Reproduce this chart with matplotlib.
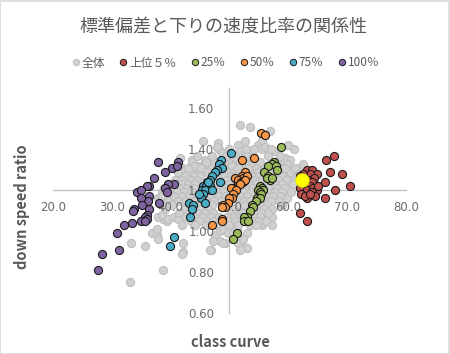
"""標準偏差と下りの速度比率の関係性 — scatter, axes crossing at (50, 1.2)."""
import matplotlib
matplotlib.use("Agg")
import matplotlib.pyplot as plt
from matplotlib.lines import Line2D
from matplotlib.patches import Rectangle

plt.rcParams["font.family"] = ["Noto Sans CJK JP", "DejaVu Sans"]

# --- data (class curve, down speed ratio) ---
gray_outer = [
    (38.7, 0.81), (33.2, 0.94), (35.6, 0.93), (42.1, 0.90), (33.1, 0.75),
    (36.8, 0.99), (37.6, 0.98), (37.9, 0.96), (37.6, 1.01), (39.3, 1.05),
    (38.7, 1.06), (37.9, 1.07), (38.5, 1.08), (39.6, 1.06), (40.5, 1.07),
    (41.3, 1.06), (38.5, 1.19), (37.9, 1.16), (39.3, 1.17), (41.0, 1.24),
    (40.4, 1.23), (41.9, 1.31), (41.6, 1.36), (43.7, 1.35), (45.8, 1.35),
    (47.1, 1.36), (48.1, 1.43), (48.3, 1.40), (48.7, 1.38), (47.8, 1.41),
    (51.7, 1.52), (53.4, 1.51), (56.8, 1.49), (52.6, 1.44), (51.5, 1.42),
    (51.8, 1.39), (52.6, 1.38), (50.9, 1.37), (50.4, 1.35), (49.8, 1.34),
    (51.2, 1.35), (51.8, 1.34), (54.9, 1.42), (55.5, 1.40), (55.5, 1.44),
    (56.1, 1.41), (57.5, 1.39), (60.0, 1.42), (60.9, 1.40), (59.4, 1.36),
    (60.3, 1.35), (62.0, 1.31), (62.5, 1.33), (59.7, 1.33), (60.9, 1.30),
    (59.2, 1.29), (60.3, 1.27), (61.1, 1.25), (60.3, 1.22), (61.6, 1.27),
    (59.6, 1.18), (59.8, 1.16), (58.9, 1.13), (56.9, 1.07), (55.5, 1.03),
    (57.2, 1.03), (56.0, 1.08), (57.2, 1.07), (55.5, 1.04), (52.9, 0.99),
    (52.1, 0.95), (52.9, 0.92), (51.5, 0.94), (46.9, 0.91), (49.2, 0.94),
    (47.5, 0.98), (48.4, 0.95), (48.9, 0.94), (47.8, 1.03), (48.4, 1.00),
    (48.9, 1.01), (49.8, 0.99), (50.6, 0.99), (51.2, 1.01), (47.2, 0.95),
    (46.7, 0.91), (42.1, 0.94), (41.9, 0.89), (51.8, 0.91),
    (52.3, 0.96), (42.4, 1.30), (44.7, 1.32), (43.3, 1.29), (42.1, 1.25),
    (43.7, 1.34), (45.5, 1.44),
]
gray_core = [
    (44.0, 1.32), (45.5, 1.32), (47.0, 1.32), (49.2, 1.32), (50.5, 1.32),
    (52.8, 1.32), (54.3, 1.32), (55.8, 1.32), (58.4, 1.32),
    (41.2, 1.29), (44.8, 1.29), (46.2, 1.29), (48.0, 1.29), (49.6, 1.29),
    (51.0, 1.29), (53.5, 1.29), (54.8, 1.29), (57.0, 1.29), (58.8, 1.29),
    (60.2, 1.29),
    (42.5, 1.27), (43.9, 1.27), (45.0, 1.27), (47.8, 1.27), (49.0, 1.27),
    (50.3, 1.27), (51.2, 1.27), (53.8, 1.27), (55.0, 1.27), (57.8, 1.27),
    (59.0, 1.27),
    (40.8, 1.25), (42.0, 1.25), (43.4, 1.25), (44.5, 1.25), (48.3, 1.25),
    (49.5, 1.25), (50.8, 1.25), (53.0, 1.25), (54.2, 1.25), (55.6, 1.25),
    (58.2, 1.25), (59.6, 1.25),
    (39.5, 1.23), (41.8, 1.23), (43.0, 1.23), (44.2, 1.23), (47.5, 1.23),
    (48.7, 1.23), (49.9, 1.23), (53.3, 1.23), (54.5, 1.23), (56.2, 1.23),
    (57.6, 1.23), (59.0, 1.23), (60.8, 1.23),
    (38.8, 1.21), (40.2, 1.21), (41.5, 1.21), (42.8, 1.21), (44.0, 1.21),
    (48.0, 1.21), (49.2, 1.21), (52.8, 1.21), (53.9, 1.21), (56.6, 1.21),
    (58.0, 1.21), (59.5, 1.21),
    (39.8, 1.19), (41.0, 1.19), (42.3, 1.19), (43.7, 1.19), (46.5, 1.19),
    (47.8, 1.19), (48.9, 1.19), (52.5, 1.19), (53.6, 1.19), (56.5, 1.19),
    (57.8, 1.19), (59.0, 1.19), (60.5, 1.19),
    (38.5, 1.17), (40.6, 1.17), (41.9, 1.17), (43.2, 1.17), (44.4, 1.17),
    (46.9, 1.17), (48.3, 1.17), (49.3, 1.17), (51.8, 1.17), (53.0, 1.17),
    (56.2, 1.17), (57.4, 1.17), (58.6, 1.17),
    (39.6, 1.15), (41.2, 1.15), (42.6, 1.15), (43.9, 1.15), (46.0, 1.15),
    (47.4, 1.15), (48.6, 1.15), (51.3, 1.15), (52.4, 1.15), (53.5, 1.15),
    (55.9, 1.15), (57.0, 1.15), (58.4, 1.15),
    (40.3, 1.13), (43.0, 1.13), (44.6, 1.13), (45.7, 1.13),
    (47.0, 1.13), (51.6, 1.13), (52.7, 1.13), (55.0, 1.13),
    (56.4, 1.13),
    (39.0, 1.11), (42.2, 1.11), (44.0, 1.11), (45.2, 1.11),
    (46.4, 1.11), (50.8, 1.11), (54.6, 1.11), (55.8, 1.11), (57.2, 1.11),
    (41.5, 1.09), (43.2, 1.09), (44.5, 1.09), (45.8, 1.09),
    (47.2, 1.09), (50.2, 1.09), (52.2, 1.09),
    (54.2, 1.09), (55.4, 1.09), (56.6, 1.09),
    (42.6, 1.07), (44.0, 1.07), (45.4, 1.07), (46.8, 1.07), (48.2, 1.07),
    (49.5, 1.07), (50.7, 1.07), (51.8, 1.07), (54.0, 1.07), (55.2, 1.07),
    (43.4, 1.05), (44.8, 1.05), (46.2, 1.05), (47.2, 1.05), (49.8, 1.05),
    (51.0, 1.05), (52.0, 1.05), (53.8, 1.05), (54.8, 1.05), (56.2, 1.05),
    (42.0, 1.03), (44.2, 1.03), (46.0, 1.03), (47.0, 1.03), (50.0, 1.03),
    (51.5, 1.03), (53.5, 1.03), (54.5, 1.03),
    (46.0, 1.34), (47.5, 1.34), (49.0, 1.34), (52.5, 1.34), (53.8, 1.34),
    (55.2, 1.34), (57.0, 1.34), (58.0, 1.34),
    (44.5, 1.37), (47.0, 1.37), (49.4, 1.37), (53.0, 1.37), (54.0, 1.37),
    (56.5, 1.37), (58.6, 1.37),
    (50.0, 1.40), (52.8, 1.40), (54.2, 1.40), (57.0, 1.40),
    (40.5, 1.31), (43.0, 1.31), (45.2, 1.31), (48.5, 1.31), (51.5, 1.31),
    (53.2, 1.31), (56.0, 1.31), (59.5, 1.31), (61.2, 1.31),
]
top5 = [
    (67.8, 1.37), (66.4, 1.35), (67.0, 1.29), (69.2, 1.28), (70.4, 1.22),
    (67.9, 1.20), (66.3, 1.24), (66.2, 1.16), (62.0, 1.09), (63.2, 1.05),
    (63.1, 1.30), (64.0, 1.30), (64.9, 1.28), (63.7, 1.28), (62.5, 1.28),
    (61.9, 1.27), (64.3, 1.26), (63.3, 1.25), (64.0, 1.24), (62.8, 1.23),
    (63.7, 1.22), (62.5, 1.21), (62.0, 1.21), (63.1, 1.20), (64.2, 1.21),
    (64.8, 1.20), (64.0, 1.19), (64.6, 1.17), (63.2, 1.16), (62.1, 1.18),
    (62.8, 1.17), (63.7, 1.18), (65.0, 1.22),
]
p25 = [
    (58.8, 1.41), (57.6, 1.34), (57.3, 1.33), (56.6, 1.32), (57.9, 1.32),
    (58.0, 1.30), (55.9, 1.29), (56.6, 1.27), (56.9, 1.25), (56.3, 1.26),
    (57.2, 1.26), (55.2, 1.22), (55.5, 1.21), (54.9, 1.20), (55.7, 1.20),
    (55.1, 1.19), (55.4, 1.18), (54.6, 1.16), (55.2, 1.16), (54.5, 1.15),
    (53.9, 1.13), (54.0, 1.12), (53.5, 1.10), (52.9, 1.07), (52.5, 1.07),
    (52.5, 1.05), (53.1, 1.05), (51.2, 0.99), (50.6, 0.96),
]
p50 = [
    (55.4, 1.48), (56.0, 1.47), (52.1, 1.35), (54.2, 1.36), (52.6, 1.29),
    (52.1, 1.27), (52.3, 1.26), (52.9, 1.27), (50.9, 1.26), (51.5, 1.25),
    (51.9, 1.24), (52.3, 1.24), (52.6, 1.25), (51.2, 1.22), (50.6, 1.21),
    (50.2, 1.21), (51.8, 1.23), (51.1, 1.20), (50.6, 1.18), (50.4, 1.16),
    (50.0, 1.16), (49.8, 1.14), (48.9, 1.13), (49.2, 1.12), (48.7, 1.12),
    (48.8, 1.06), (48.7, 1.05), (47.1, 1.03),
]
p75 = [
    (50.3, 1.38), (48.6, 1.35), (48.3, 1.33), (48.7, 1.31), (47.8, 1.30),
    (47.5, 1.29), (47.0, 1.27), (46.7, 1.25), (46.2, 1.24), (45.5, 1.22),
    (46.0, 1.22), (48.4, 1.24), (46.7, 1.22), (45.3, 1.20), (45.8, 1.20),
    (47.0, 1.20), (45.5, 1.18), (45.1, 1.16), (45.8, 1.14), (43.2, 1.14),
    (43.8, 1.13), (43.6, 1.11), (43.3, 1.07), (40.6, 0.97), (39.9, 0.93),
    (44.9, 1.18), (46.3, 1.24),
]
p100 = [
    (37.8, 1.34), (41.3, 1.34), (40.3, 1.31), (41.0, 1.32), (39.0, 1.29),
    (37.2, 1.26), (40.6, 1.23), (39.6, 1.23), (39.0, 1.21), (36.4, 1.22),
    (36.0, 1.22), (34.2, 1.19), (35.0, 1.20), (36.3, 1.17), (36.1, 1.15),
    (35.0, 1.16), (35.2, 1.13), (38.0, 1.14), (36.4, 1.11), (33.8, 1.11),
    (33.6, 1.10), (36.0, 1.08), (35.6, 1.07), (35.9, 1.06), (35.0, 1.05),
    (35.6, 1.05), (33.5, 1.04), (32.0, 1.03), (30.9, 0.99), (31.2, 0.91),
    (28.4, 0.89), (27.6, 0.81), (39.4, 1.19),
]
me = [(62.3, 1.25)]

series = [
    ("全体", gray_outer + gray_core, "#D0D0D0", "#BEBEBE"),
    ("上位５％", top5, "#C0504D", "#1a1a1a"),
    ("25％", p25, "#9BBB59", "#1a1a1a"),
    ("50％", p50, "#F79646", "#1a1a1a"),
    ("75％", p75, "#4BACC6", "#1a1a1a"),
    ("100％", p100, "#8064A2", "#1a1a1a"),
]

fig = plt.figure(figsize=(4.5, 3.54), dpi=100)
ax = fig.add_axes([53 / 450, 1 - 313 / 354, 353 / 450, 225 / 354])
ax.set_axisbelow(False)  # tick labels over the gray cloud

for i, (name, pts, fc, ec) in enumerate(series):
    xs = [p[0] for p in pts]
    ys = [p[1] for p in pts]
    # gray cloud sits under the tick labels, coloured groups on top
    ax.scatter(xs, ys, s=34, c=fc, edgecolors=ec, linewidths=0.8,
               zorder=2 if i == 0 else 3)
ax.scatter([p[0] for p in me], [p[1] for p in me], s=95, c="#FFFF00",
           edgecolors="#E6E600", linewidths=0.6, zorder=4)

ax.set_xlim(20, 80)
ax.set_ylim(0.6, 1.7)
ax.set_xticks([20, 30, 40, 50, 60, 70, 80])
ax.set_yticks([0.6, 0.8, 1.0, 1.2, 1.4, 1.6])
ax.set_xticklabels([f"{v:.1f}" for v in ax.get_xticks()])
ax.set_yticklabels([f"{v:.2f}" for v in ax.get_yticks()])
for s in ("top", "right"):
    ax.spines[s].set_visible(False)
ax.spines["left"].set_position(("data", 50))
ax.spines["bottom"].set_position(("data", 1.2))
for s in ("left", "bottom"):
    ax.spines[s].set_color("#BFBFBF")
    ax.spines[s].set_linewidth(0.9)
    ax.spines[s].set_zorder(1.5)
ax.tick_params(axis="x", length=0, pad=8, labelsize=8.5, labelcolor="#6b6b6b")
ax.tick_params(axis="y", length=0, pad=11, labelsize=8.5, labelcolor="#6b6b6b")
for lab in ax.get_xticklabels() + ax.get_yticklabels():
    lab.set_family("DejaVu Sans")
ax.set_facecolor("none")

fig.text(0.497, 1 - 27 / 354, "標準偏差と下りの速度比率の関係性", ha="center",
         va="center", fontsize=13, color="#595959")
fig.text(230 / 450, 1 - 342 / 354, "class curve", ha="center", va="center",
         fontsize=10.5, fontweight="bold", color="#595959")
fig.text(22 / 450, 1 - 207 / 354, "down speed ratio", ha="center", va="center",
         rotation=90, fontsize=10.5, fontweight="bold", color="#595959")

handles = [Line2D([], [], ls="none", marker="o", ms=4.6, mfc=fc, mec=ec, mew=0.7)
           for _, _, fc, ec in series]
fig.legend(handles, [s[0] for s in series], loc="center", ncol=6,
           bbox_to_anchor=(0.5, 1 - 63 / 354), frameon=False, fontsize=8.5,
           handletextpad=0.05, columnspacing=1.1, handlelength=0.9,
           labelcolor="#595959")

fig.add_artist(Rectangle((0.001, 0.001), 0.997, 0.996, transform=fig.transFigure,
                         fill=False, edgecolor="#D9D9D9", linewidth=1.2))
fig.savefig("out.png", dpi=100)
